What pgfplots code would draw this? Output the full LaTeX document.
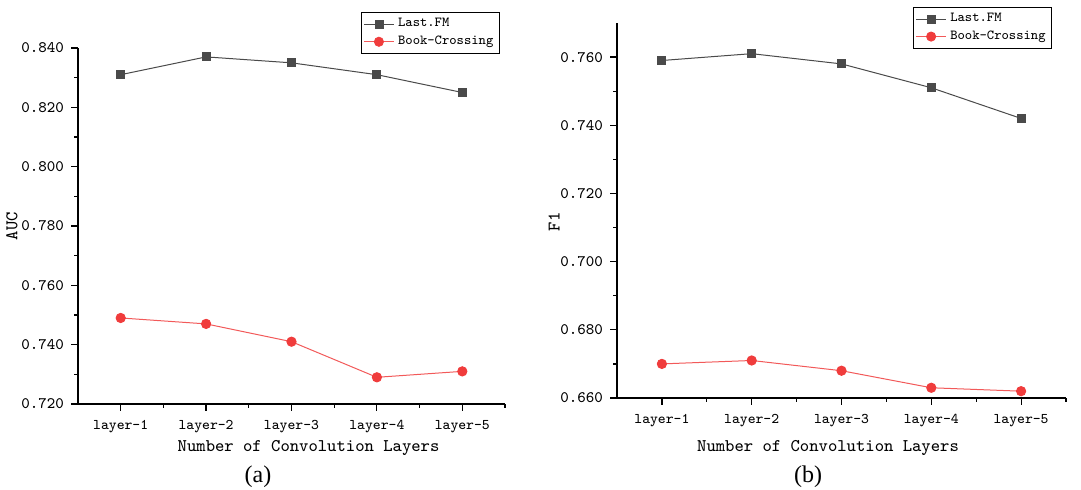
\documentclass[border=0pt]{standalone}
\usepackage{fontspec}
\setmainfont{Liberation Serif}
\usepackage{pgfplots}
\pgfplotsset{compat=1.18}

\definecolor{lfm}{HTML}{4A4A4A}
\definecolor{bx}{HTML}{F03C3C}

\newcommand{\tk}{\fontsize{8}{9}\ttfamily}
\newcommand{\tx}{\fontsize{7.4}{9}\ttfamily}

\pgfplotsset{
  panel/.style={
    scale only axis,
    axis x line=bottom, axis y line=left,
    axis line style={-, line width=0.75pt},
    xmin=0.5, xmax=5.5,
    xtick={1,2,3,4,5},
    xticklabels={{\tx layer-1},{\tx layer-2},{\tx layer-3},{\tx layer-4},{\tx layer-5}},
    minor xtick={1.5,2.5,3.5,4.5,5.5},
    minor y tick num=1,
    tick align=outside,
    major tick length=3.5pt, minor tick length=2pt,
    tick style={black, line width=0.6pt},
    xticklabel style={yshift=-1pt},
    label style={font=\ttfamily\fontsize{8.9}{10}\selectfont},
    legend style={draw=black, line width=0.5pt, font=\ttfamily\fontsize{6.9}{8}\selectfont,
      anchor=north east, inner sep=1pt, row sep=-1pt, cells={anchor=west}},
    legend image post style={line width=0.4pt},
    legend image code/.code={
      \draw[mark repeat=2,mark phase=2] plot coordinates {(0cm,0cm) (0.26cm,0cm) (0.52cm,0cm)};
    },
  },
  lfmstyle/.style={color=lfm, line width=0.5pt, mark=square*, mark size=2pt, mark options={fill=lfm, draw=lfm}},
  bxstyle/.style={color=bx!85, line width=0.5pt, mark=*, mark size=2.3pt, mark options={fill=bx, draw=bx}},
}

\begin{document}
\begin{tikzpicture}
\begin{axis}[panel,
  at={(39pt,-202pt)}, anchor=south west,
  width=213.5pt, height=178pt,
  ymin=0.72, ymax=0.84,
  ytick={0.72,0.74,0.76,0.78,0.80,0.82,0.84},
  yticklabels={{\tk 0.720},{\tk 0.740},{\tk 0.760},{\tk 0.780},{\tk 0.800},{\tk 0.820},{\tk 0.840}},
  ylabel={AUC},
  ylabel style={at={(axis description cs:-0.155,0.5)}, anchor=center},
  xlabel={Number of Convolution Layers},
  xlabel style={at={(axis description cs:0.54,-0.124)}, anchor=center},
  legend style={at={(axis description cs:0.988,1.101)}},
]
\addplot[lfmstyle] coordinates {(1,0.831) (2,0.837) (3,0.835) (4,0.831) (5,0.825)};
\addlegendentry{Last.FM}
\addplot[bxstyle] coordinates {(1,0.749) (2,0.747) (3,0.741) (4,0.729) (5,0.731)};
\addlegendentry{Book-Crossing}
\end{axis}

\begin{axis}[panel,
  at={(308.5pt,-199pt)}, anchor=south west,
  width=224.5pt, height=187.5pt,
  ymin=0.66, ymax=0.77,
  ytick={0.66,0.68,0.70,0.72,0.74,0.76},
  yticklabels={{\tk 0.660},{\tk 0.680},{\tk 0.700},{\tk 0.720},{\tk 0.740},{\tk 0.760}},
  ylabel={F1},
  ylabel style={at={(axis description cs:-0.14,0.47)}, anchor=center},
  xlabel={Number of Convolution Layers},
  xlabel style={at={(axis description cs:0.47,-0.133)}, anchor=center},
  legend style={at={(axis description cs:0.969,1.043)}},
]
\addplot[lfmstyle] coordinates {(1,0.759) (2,0.761) (3,0.758) (4,0.751) (5,0.742)};
\addlegendentry{Last.FM}
\addplot[bxstyle] coordinates {(1,0.670) (2,0.671) (3,0.668) (4,0.663) (5,0.662)};
\addlegendentry{Book-Crossing}
\end{axis}

\node[font=\fontsize{12}{14}\selectfont] at (129pt,-238.5pt) {(a)};
\node[font=\fontsize{12}{14}\selectfont] at (404pt,-238.5pt) {(b)};

\pgfresetboundingbox
\useasboundingbox (0,0) rectangle (540.5pt,-245pt);
\end{tikzpicture}
\end{document}
